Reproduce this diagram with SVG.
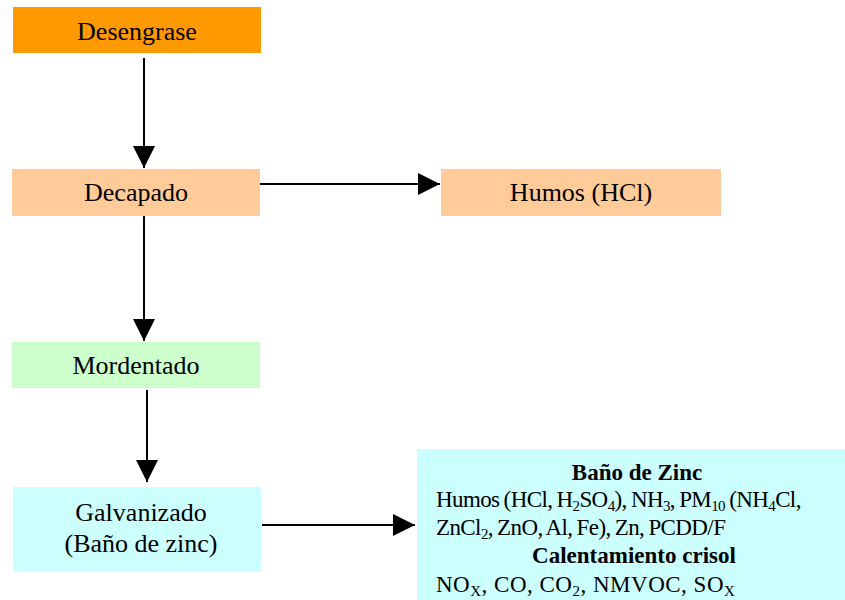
<svg xmlns="http://www.w3.org/2000/svg" width="845" height="600" viewBox="0 0 845 600">
  <style>
    .lbl { font-family: "Liberation Serif", "Times New Roman", serif; font-size: 26px; fill: #000; text-anchor: middle; }
    .em { font-family: "Liberation Serif", "Times New Roman", serif; font-size: 23px; fill: #000; }
    .b { font-weight: bold; text-anchor: middle; }
    .tight { letter-spacing: -0.6px; word-spacing: -1px; }
    .wide { letter-spacing: 0.5px; }
    .sub { font-size: 15px; }
    .edge { stroke: #000; stroke-width: 2; fill: none; marker-end: url(#head); }
  </style>
  <defs>
    <marker id="head" markerUnits="userSpaceOnUse" markerWidth="22" markerHeight="22" viewBox="0 0 20 20" refX="20" refY="10" orient="auto">
      <path d="M0,0 L20,10 L0,20 Z" fill="#000"/>
    </marker>
  </defs>

  <g id="desengrase">
    <rect x="13" y="7" width="248" height="46" fill="#FF9900"/>
    <text class="lbl" x="137" y="40">Desengrase</text>
  </g>
  <g id="decapado">
    <rect x="12" y="169" width="248" height="47" fill="#FFCC99"/>
    <text class="lbl" x="136" y="201">Decapado</text>
  </g>
  <g id="humos">
    <rect x="441" y="169" width="280" height="47" fill="#FFCC99"/>
    <text class="lbl" x="581" y="201">Humos (HCl)</text>
  </g>
  <g id="mordentado">
    <rect x="12" y="342" width="248" height="46" fill="#CCFFCC"/>
    <text class="lbl" x="136" y="374">Mordentado</text>
  </g>
  <g id="galvanizado">
    <rect x="13" y="487" width="248" height="85" fill="#CCFFFF"/>
    <text class="lbl" x="141" y="521">Galvanizado</text>
    <text class="lbl" x="141" y="552">(Baño de zinc)</text>
  </g>
  <g id="emisiones">
    <rect x="417" y="449" width="428" height="151" fill="#CCFFFF"/>
    <text class="em b" x="637" y="480">Baño de Zinc</text>
    <text class="em tight" x="436" y="507">Humos (HCl, H<tspan class="sub" dy="4">2</tspan><tspan dy="-4">SO</tspan><tspan class="sub" dy="4">4</tspan><tspan dy="-4">), NH</tspan><tspan class="sub" dy="4">3</tspan><tspan dy="-4">, PM</tspan><tspan class="sub" dy="4">10</tspan><tspan dy="-4"> (NH</tspan><tspan class="sub" dy="4">4</tspan><tspan dy="-4">Cl,</tspan></text>
    <text class="em tight" x="436" y="535">ZnCl<tspan class="sub" dy="4">2</tspan><tspan dy="-4">, ZnO, Al, Fe), Zn, PCDD/F</tspan></text>
    <text class="em b" x="634" y="563">Calentamiento crisol</text>
    <text class="em wide" x="436" y="592">NO<tspan class="sub" dy="4">X</tspan><tspan dy="-4">, CO, CO</tspan><tspan class="sub" dy="4">2</tspan><tspan dy="-4">, NMVOC, SO</tspan><tspan class="sub" dy="4">X</tspan></text>
  </g>

  <g id="connectors">
    <line class="edge" x1="144" y1="58" x2="144" y2="168"/>
    <line class="edge" x1="144" y1="216" x2="144" y2="341"/>
    <line class="edge" x1="147" y1="390" x2="147" y2="482"/>
    <line class="edge" x1="260" y1="184" x2="440" y2="184"/>
    <line class="edge" x1="262" y1="525" x2="415" y2="525"/>
  </g>
</svg>
